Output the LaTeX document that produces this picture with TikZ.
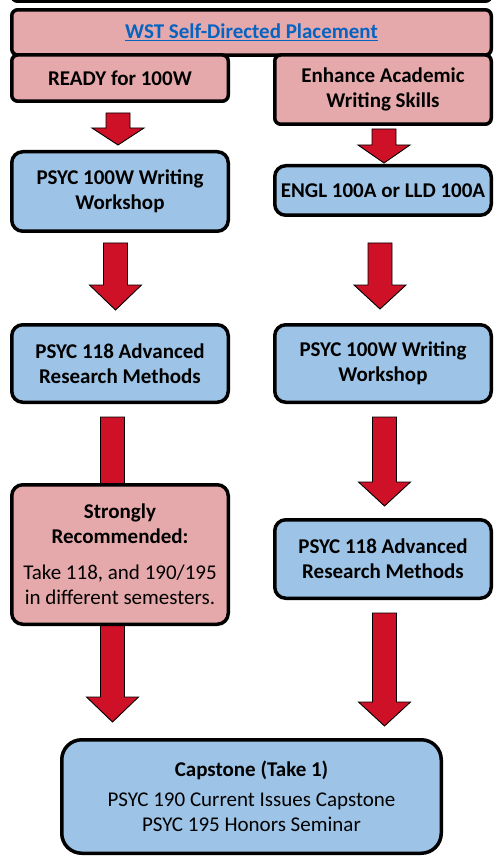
\documentclass[tikz,border=0pt]{standalone}
\usepackage{fontspec}
\setmainfont{Carlito}
\usetikzlibrary{calc}
\definecolor{pinkfill}{RGB}{230,169,171}
\definecolor{bluefill}{RGB}{157,195,230}
\definecolor{arrowred}{RGB}{206,17,38}
\definecolor{linkblue}{RGB}{5,99,193}
\newcommand{\fatarrow}[3]{%
  \draw[redarrow] let \p1=(#1), \p2=(#2) in
    (\x1-12pt,\y1) -- (\x1+12pt,\y1) -- (\x1+12pt,\y2+#3) -- (\x1+26pt,\y2+#3)
    -- (\x1,\y2) -- (\x1-26pt,\y2+#3) -- (\x1-12pt,\y2+#3) -- cycle;}

\begin{document}
\begin{tikzpicture}[x=1pt,y=-1pt,
    box/.style={draw=black,line width=3.5pt,align=center,inner sep=0pt,
      font=\fontsize{21}{25}\selectfont},
    pinkbox/.style={box,fill=pinkfill,rounded corners=6pt},
    bluebox/.style={box,fill=bluefill,rounded corners=11pt},
    redarrow/.style={fill=arrowred,draw=black,line width=0.9pt,line join=miter}]
    \useasboundingbox (0,0) rectangle (500,858);
    \begin{scope}
      \clip (0,0) rectangle (500,858);
      \draw[line width=3.5pt,rounded corners=6pt] (11.75,-40) rectangle (491.25,1.25);
    \end{scope}
    \node[pinkbox,minimum width=479.5,minimum height=45.25] (wst) at (251.5,32.4)
      {\bfseries\color{linkblue}\underline{WST Self-Directed Placement}};
    \node[pinkbox,minimum width=216.5,minimum height=46.25] (ready) at (120,78.1)
      {\bfseries READY for 100W};
    \node[pinkbox,minimum width=216.5,minimum height=69.25] (enhance) at (383,89.6)
      {\bfseries Enhance Academic\\\bfseries Writing Skills};
    \node[bluebox,minimum width=216.5,minimum height=79.5] (workshopA) at (120,191.5)
      {\bfseries PSYC 100W Writing\\\bfseries Workshop};
    \node[bluebox,minimum width=216.5,minimum height=49.5] (engl) at (383,190.5)
      {\bfseries ENGL 100A or LLD 100A};
    \node[bluebox,minimum width=216.5,minimum height=77.5] (methodsA) at (120,363.5)
      {\bfseries PSYC 118 Advanced\\\bfseries Research Methods};
    \node[bluebox,minimum width=216.5,minimum height=77.5] (workshopB) at (383,363.5)
      {\bfseries PSYC 100W Writing\\\bfseries Workshop};
    \node[bluebox,minimum width=216.5,minimum height=78.5] (methodsB) at (383,559)
      {\bfseries PSYC 118 Advanced\\\bfseries Research Methods};
    \node[bluebox,rounded corners=20pt,minimum width=379.5,minimum height=113.5] (capstone) at (251.5,796.5)
      {\textbf{Capstone (Take 1)}\\[4.5pt]PSYC 190 Current Issues Capstone\\PSYC 195 Honors Seminar};
    \fatarrow{$(ready.south)+(-2pt,-10pt)$}{$(workshopA.north)+(0,5pt)$}{17pt}
    \fatarrow{$(enhance.south)+(1pt,-3pt)$}{$(engl.north)+(0,1pt)$}{18pt}
    \fatarrow{$(workshopA.south)+(-4.5pt,-10pt)$}{$(methodsA.north)+(0,13pt)$}{25pt}
    \fatarrow{$(engl.south)+(-3pt,-26pt)$}{$(workshopB.north)+(0,14pt)$}{24pt}
    \fatarrow{$(methodsA.south)+(-7.5pt,-13pt)$}{$(capstone.north)+(0,16pt)$}{25pt}
    \fatarrow{$(workshopB.south)+(1.5pt,-13pt)$}{$(methodsB.north)+(0,12pt)$}{24pt}
    \fatarrow{$(methodsB.south)+(1.5pt,-13pt)$}{$(capstone.north)+(0,12pt)$}{24pt}
    \node[pinkbox,rounded corners=11pt,minimum width=216.5,minimum height=139.5] (strong) at (120,554.5)
      {\textbf{Strongly}\\\textbf{Recommended:}\\[11pt]Take 118, and 190/195\\in different semesters.};
\end{tikzpicture}
\end{document}
